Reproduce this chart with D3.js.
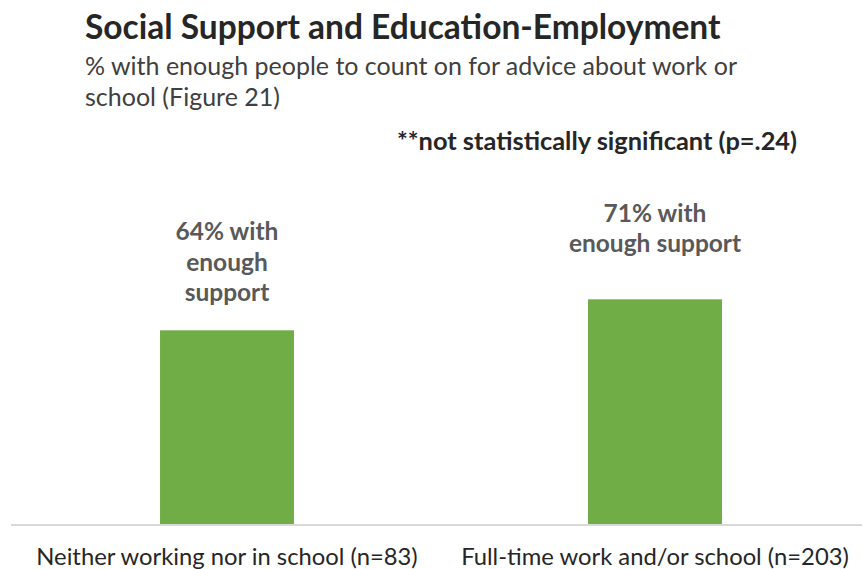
<!DOCTYPE html>
<html>
<head>
<meta charset="utf-8">
<script src="https://cdn.jsdelivr.net/npm/d3@7"></script>
<style>
  body { margin: 0; background: #fff; }
  text { font-family: Lato, "Open Sans", sans-serif; }
</style>
</head>
<body>
<div id="chart"></div>
<script>
// data
const categories = ['Neither working nor in school (n=83)', 'Full-time work and/or school (n=203)'];
const values = [64, 71];
const barLabels = [['64% with', 'enough', 'support'], ['71% with', 'enough support']];
const titleText = 'Social Support and Education-Employment';
const subtitleLines = ['% with enough people to count on for advice about work or', 'school (Figure 21)'];
const noteText = '**not statistically significant (p=.24)';

const width = 862, height = 569;
const labelGap = [29, 47];   // space between last label line and bar top

const svg = d3.select('#chart')
    .append('svg')
    .attr('width', width)
    .attr('height', height);

const x = d3.scaleBand()
    .domain(categories)
    .range([13, 869])
    .padding(0);

const y = d3.scaleLinear()
    .domain([20, 100])
    .range([525, 171]);

const barW = x.bandwidth() * 0.313;

// title block
svg.append('text')
    .attr('x', 85).attr('y', 39)
    .attr('font-size', 33.5).attr('font-weight', 'bold')
    .attr('fill', '#262626')
    .text(titleText);

svg.selectAll('.sub')
    .data(subtitleLines)
    .enter().append('text')
    .attr('class', 'sub')
    .attr('x', 85)
    .attr('y', (d, i) => 75 + i * 31)
    .attr('font-size', 25)
    .attr('fill', '#404040')
    .text(d => d);

svg.append('text')
    .attr('x', 397).attr('y', 150)
    .attr('font-size', 25.4).attr('font-weight', 'bold')
    .attr('fill', '#262626')
    .text(noteText);

// bars
svg.selectAll('.bar')
    .data(values)
    .enter().append('rect')
    .attr('class', 'bar')
    .attr('x', (d, i) => x(categories[i]) + x.bandwidth() / 2 - barW / 2)
    .attr('y', d => y(d))
    .attr('width', barW)
    .attr('height', d => y(20) - y(d))
    .attr('fill', '#70AD47');

// bar labels
barLabels.forEach((lines, i) => {
    let cx = x(categories[i]) + x.bandwidth() / 2;
    let top = y(values[i]) - labelGap[i] - (lines.length - 1) * 30.5;
    svg.append('text')
        .attr('text-anchor', 'middle')
        .attr('font-size', 24.5).attr('font-weight', 'bold')
        .attr('fill', '#595959')
        .selectAll('tspan')
        .data(lines)
        .enter().append('tspan')
        .attr('x', cx)
        .attr('y', (d, j) => top + j * 30.5)
        .text(d => d);
});

// x axis
const xAxis = d3.axisBottom(x).tickSize(0);
const gx = svg.append('g')
    .attr('transform', 'translate(0,' + y(20) + ')')
    .call(xAxis);
gx.select('.domain').remove();
gx.append('line')
    .attr('x1', 11).attr('x2', 862)
    .attr('stroke', '#d9d9d9').attr('stroke-width', 2);
gx.selectAll('.tick text')
    .attr('y', 40).attr('dy', 0)
    .attr('font-size', 23.8)
    .attr('font-family', 'Lato, "Open Sans", sans-serif')
    .attr('fill', '#262626');
</script>
</body>
</html>
